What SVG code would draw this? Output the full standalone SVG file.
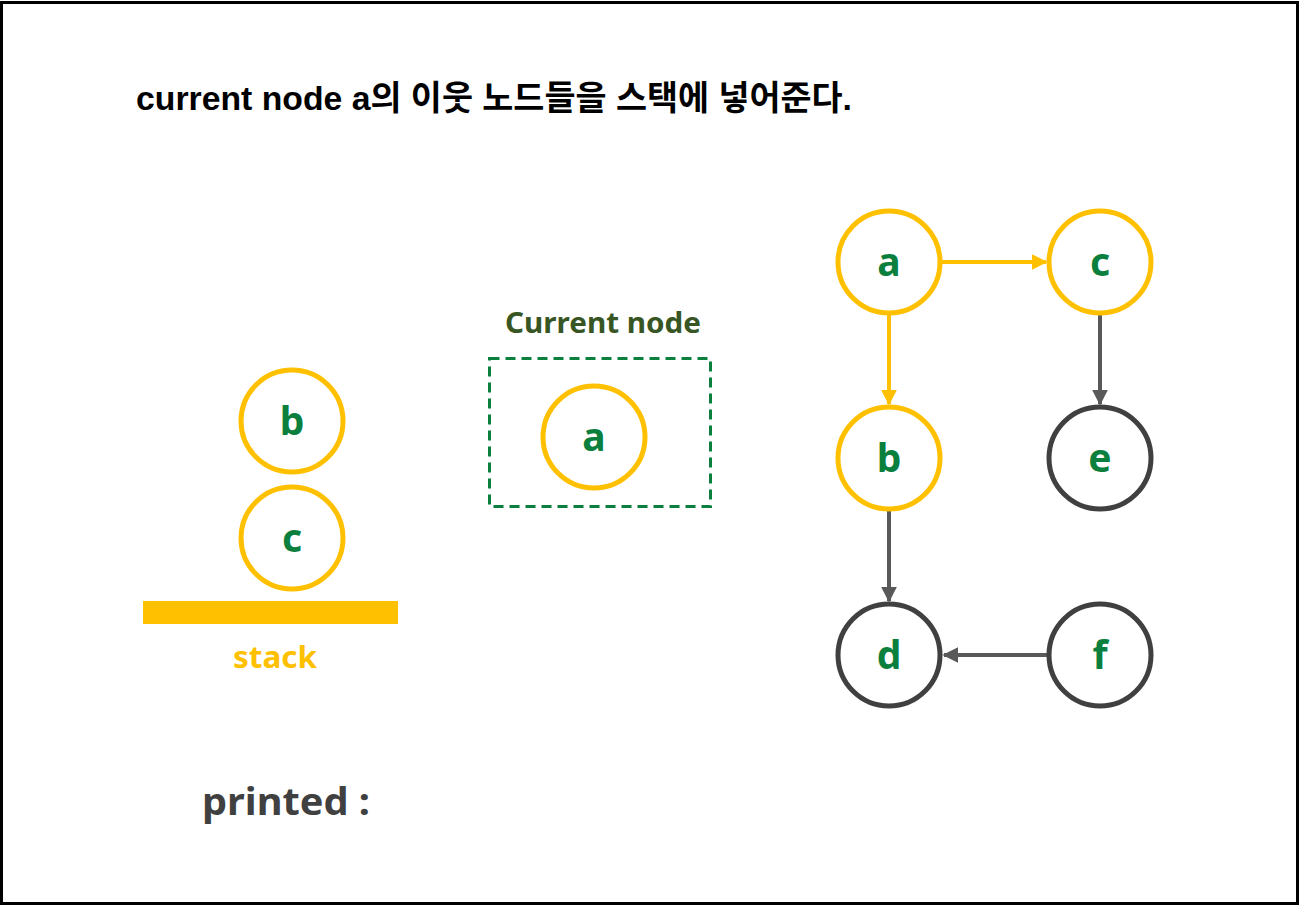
<svg xmlns="http://www.w3.org/2000/svg" width="1300" height="906" viewBox="0 0 1300 906">
<style>
.lbl{font-family:"Noto Sans","Open Sans",sans-serif;font-weight:bold;font-size:39px;fill:#0B7F3D;text-anchor:middle}
.y{fill:#fff;stroke:#FFC000;stroke-width:5}
.g{fill:#fff;stroke:#404040;stroke-width:5}
.cy{stroke:#FFC000;stroke-width:4;fill:none}
.cg{stroke:#595959;stroke-width:4;fill:none}
</style>
<defs>
<marker id="ay" viewBox="0 0 10 10" refX="9" refY="5" markerWidth="4" markerHeight="4" markerUnits="strokeWidth" orient="auto"><path d="M0,0L10,5L0,10z" fill="#FFC000"/></marker>
<marker id="ag" viewBox="0 0 10 10" refX="9" refY="5" markerWidth="4" markerHeight="4" markerUnits="strokeWidth" orient="auto"><path d="M0,0L10,5L0,10z" fill="#595959"/></marker>
</defs>
<rect x="0" y="0" width="1300" height="906" fill="#fff"/>
<rect x="1.5" y="2.5" width="1296" height="901" fill="none" stroke="#000" stroke-width="3"/>
<text x="136" y="110" font-family="Liberation Sans,Noto Sans CJK KR,sans-serif" font-weight="bold" font-size="34" fill="#000" textLength="716" lengthAdjust="spacingAndGlyphs">current node a의 이웃 노드들을 스택에 넣어준다.</text>
<g id="connectors">
<line class="cy" x1="942" y1="262" x2="1046" y2="262" marker-end="url(#ay)"/>
<line class="cy" x1="889" y1="314" x2="889" y2="404" marker-end="url(#ay)"/>
<line class="cg" x1="1100" y1="313" x2="1100" y2="404" marker-end="url(#ag)"/>
<line class="cg" x1="889" y1="509" x2="889" y2="601" marker-end="url(#ag)"/>
<line class="cg" x1="1048" y1="655" x2="944" y2="655" marker-end="url(#ag)"/>
</g>
<g id="node-a"><circle class="y" cx="889" cy="262" r="51"/><text class="lbl" x="889" y="276">a</text></g>
<g id="node-c"><circle class="y" cx="1100" cy="262" r="51"/><text class="lbl" x="1100" y="276">c</text></g>
<g id="node-b"><circle class="y" cx="889" cy="458" r="51"/><text class="lbl" x="889" y="472">b</text></g>
<g id="node-e"><circle class="g" cx="1100" cy="458" r="51"/><text class="lbl" x="1100" y="472">e</text></g>
<g id="node-d"><circle class="g" cx="889" cy="655" r="51"/><text class="lbl" x="889" y="669">d</text></g>
<g id="node-f"><circle class="g" cx="1100" cy="655" r="51"/><text class="lbl" x="1100" y="669">f</text></g>
<g id="current">
<text x="603" y="333" font-family="Noto Sans,Open Sans,sans-serif" font-weight="bold" font-size="28" fill="#375623" text-anchor="middle" textLength="196" lengthAdjust="spacingAndGlyphs">Current node</text>
<rect x="489.5" y="358.5" width="221" height="148" fill="none" stroke="#0B7F3D" stroke-width="3" stroke-dasharray="10,6"/>
<circle class="y" cx="594" cy="437" r="51"/><text class="lbl" x="594" y="451">a</text>
</g>
<g id="stack">
<circle class="y" cx="292" cy="421" r="51"/><text class="lbl" x="292" y="435">b</text>
<circle class="y" cx="292" cy="538" r="51"/><text class="lbl" x="292" y="552">c</text>
<rect x="143" y="601" width="255" height="23" fill="#FFC000"/>
<text x="275" y="668" font-family="Noto Sans,Open Sans,sans-serif" font-weight="bold" font-size="30" fill="#FFC000" text-anchor="middle" textLength="84" lengthAdjust="spacingAndGlyphs">stack</text>
</g>
<text x="202" y="815" font-family="Noto Sans,Open Sans,sans-serif" font-weight="bold" font-size="38" fill="#404040" textLength="168" lengthAdjust="spacingAndGlyphs">printed :</text>
</svg>
